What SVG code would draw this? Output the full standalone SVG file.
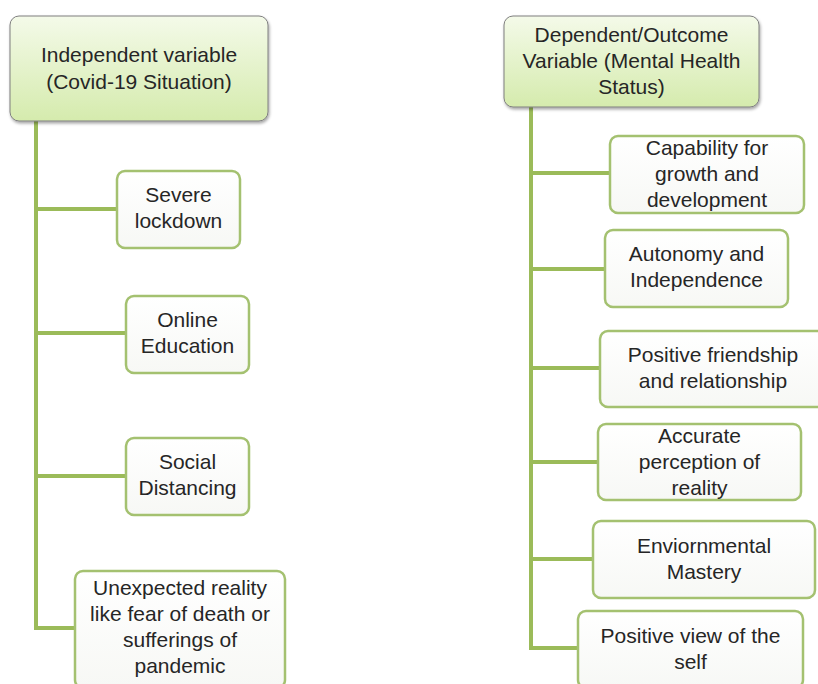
<svg xmlns="http://www.w3.org/2000/svg" width="818" height="684" viewBox="0 0 818 684">
<defs>
<linearGradient id="hg" x1="0" y1="0" x2="0" y2="1">
<stop offset="0" stop-color="#f4fae9"/>
<stop offset="1" stop-color="#d5ebad"/>
</linearGradient>
<linearGradient id="cg" x1="0" y1="0" x2="0" y2="1">
<stop offset="0" stop-color="#ffffff"/>
<stop offset="1" stop-color="#f7f8f5"/>
</linearGradient>
<filter id="sh" x="-10%" y="-10%" width="125%" height="130%">
<feDropShadow dx="1" dy="2" stdDeviation="1.5" flood-color="#000" flood-opacity="0.35"/>
</filter>
</defs>
<style>
.hdr{fill:url(#hg);stroke:#7f7f7f;stroke-width:1;filter:url(#sh)}
.box{fill:url(#cg);stroke:#a4c170;stroke-width:2.5}
.ln{stroke:#9bbb59;stroke-width:4;fill:none}
text{font-family:"Liberation Sans",Arial,sans-serif;font-size:21px;fill:#262626;text-anchor:middle}
</style>
<rect width="818" height="684" fill="#fff"/>
<g id="connectors">
<path class="ln" d="M36 121 V628 H75"/>
<path class="ln" d="M36 209 H117"/>
<path class="ln" d="M36 333 H126"/>
<path class="ln" d="M36 476 H126"/>
<path class="ln" d="M531 107 V648 H578"/>
<path class="ln" d="M531 173 H610"/>
<path class="ln" d="M531 269 H605"/>
<path class="ln" d="M531 368 H600"/>
<path class="ln" d="M531 462 H598"/>
<path class="ln" d="M531 559 H593"/>
</g>
<g id="left-header">
<rect class="hdr" x="10" y="16" width="258" height="105" rx="9"/>
<text x="139" y="62">Independent variable</text>
<text x="139" y="89">(Covid-19 Situation)</text>
</g>
<g id="severe-lockdown">
<rect class="box" x="117" y="171" width="123" height="77" rx="8"/>
<text x="178.5" y="202">Severe</text>
<text x="178.5" y="228">lockdown</text>
</g>
<g id="online-education">
<rect class="box" x="126" y="296" width="123" height="77" rx="8"/>
<text x="187.5" y="327">Online</text>
<text x="187.5" y="353">Education</text>
</g>
<g id="social-distancing">
<rect class="box" x="126" y="438" width="123" height="77" rx="8"/>
<text x="187.5" y="469">Social</text>
<text x="187.5" y="495">Distancing</text>
</g>
<g id="unexpected-reality">
<rect class="box" x="75" y="571" width="210" height="117" rx="8"/>
<text x="180" y="595">Unexpected reality</text>
<text x="180" y="621">like fear of death or</text>
<text x="180" y="647">sufferings of</text>
<text x="180" y="673">pandemic</text>
</g>
<g id="right-header">
<rect class="hdr" x="504" y="16" width="255" height="91" rx="9"/>
<text x="631.5" y="42">Dependent/Outcome</text>
<text x="631.5" y="68">Variable (Mental Health</text>
<text x="631.5" y="94">Status)</text>
</g>
<g id="capability">
<rect class="box" x="610" y="136" width="194" height="77" rx="8"/>
<text x="707" y="155">Capability for</text>
<text x="707" y="181">growth and</text>
<text x="707" y="207">development</text>
</g>
<g id="autonomy">
<rect class="box" x="605" y="230" width="183" height="77" rx="8"/>
<text x="696.5" y="261">Autonomy and</text>
<text x="696.5" y="287">Independence</text>
</g>
<g id="friendship">
<rect class="box" x="600" y="331" width="225" height="76" rx="8"/>
<text x="713" y="362">Positive friendship</text>
<text x="713" y="388">and relationship</text>
</g>
<g id="accurate-perception">
<rect class="box" x="598" y="424" width="203" height="76" rx="8"/>
<text x="699.5" y="443">Accurate</text>
<text x="699.5" y="469">perception of</text>
<text x="699.5" y="495">reality</text>
</g>
<g id="environmental-mastery">
<rect class="box" x="593" y="521" width="222" height="77" rx="8"/>
<text x="704" y="553">Enviornmental</text>
<text x="704" y="579">Mastery</text>
</g>
<g id="positive-view">
<rect class="box" x="578" y="611" width="225" height="77" rx="8"/>
<text x="690.5" y="643">Positive view of the</text>
<text x="690.5" y="669">self</text>
</g>
</svg>
